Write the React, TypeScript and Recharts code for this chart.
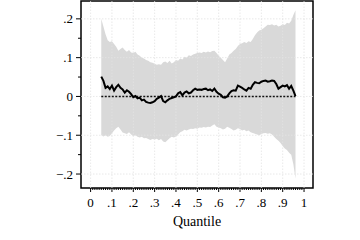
import {
  Area,
  ComposedChart,
  Line,
  ReferenceArea,
  ReferenceLine,
  XAxis,
  YAxis,
} from 'recharts';

const quantiles = [
  0.05, 0.06, 0.07, 0.08, 0.09, 0.1, 0.11, 0.12, 0.13, 0.14,
  0.15, 0.16, 0.17, 0.18, 0.19, 0.2, 0.21, 0.22, 0.23, 0.24,
  0.25, 0.26, 0.27, 0.28, 0.29, 0.3, 0.31, 0.32, 0.33, 0.34,
  0.35, 0.36, 0.37, 0.38, 0.39, 0.4, 0.41, 0.42, 0.43, 0.44,
  0.45, 0.46, 0.47, 0.48, 0.49, 0.5, 0.51, 0.52, 0.53, 0.54,
  0.55, 0.56, 0.57, 0.58, 0.59, 0.6, 0.61, 0.62, 0.63, 0.64,
  0.65, 0.66, 0.67, 0.68, 0.69, 0.7, 0.71, 0.72, 0.73, 0.74,
  0.75, 0.76, 0.77, 0.78, 0.79, 0.8, 0.81, 0.82, 0.83, 0.84,
  0.85, 0.86, 0.87, 0.88, 0.89, 0.9, 0.91, 0.92, 0.93, 0.94,
  0.95, 0.96,
];

const estimate = [
  0.051, 0.04, 0.022, 0.026, 0.019, 0.028, 0.015, 0.024, 0.03, 0.022,
  0.018, 0.01, 0.016, 0.012, 0.006, -0.002, 0.001, -0.005, -0.003, -0.01,
  -0.008, -0.014, -0.016, -0.017, -0.015, -0.012, -0.006, -0.003, 0.001, -0.012,
  -0.015, -0.01, -0.006, -0.004, -0.002, 0.0, 0.008, 0.011, 0.003, 0.01,
  0.013, 0.008, 0.01, 0.016, 0.02, 0.017, 0.018, 0.017, 0.019, 0.02,
  0.016, 0.018, 0.014, 0.02, 0.012, 0.007, 0.004, -0.002, -0.003, 0.0,
  0.008, 0.014, 0.016, 0.015, 0.028, 0.025, 0.022, 0.018, 0.015, 0.022,
  0.02, 0.03, 0.037, 0.035, 0.034, 0.038, 0.04, 0.041, 0.038, 0.039,
  0.041, 0.04, 0.032, 0.02, 0.024, 0.028, 0.026, 0.029, 0.02, 0.027,
  0.015, 0.001,
];

const upper = [
  0.2, 0.18, 0.16, 0.145, 0.14, 0.142, 0.135, 0.128, 0.118, 0.122,
  0.126, 0.12, 0.115, 0.12, 0.113, 0.112, 0.115, 0.108, 0.105, 0.1,
  0.098, 0.094, 0.092, 0.088, 0.087, 0.084, 0.082, 0.083, 0.082, 0.088,
  0.09, 0.086, 0.092, 0.085, 0.088, 0.094, 0.092, 0.098, 0.095, 0.102,
  0.1, 0.106, 0.104, 0.108, 0.11, 0.112, 0.113, 0.112, 0.115, 0.113,
  0.116, 0.114, 0.117, 0.118, 0.112, 0.105, 0.1, 0.094, 0.088, 0.098,
  0.108, 0.112, 0.118, 0.122, 0.13, 0.135, 0.137, 0.14, 0.138, 0.142,
  0.14, 0.148, 0.158, 0.165, 0.17, 0.172, 0.176, 0.18, 0.185, 0.184,
  0.186, 0.183, 0.185, 0.18, 0.182, 0.186, 0.184, 0.19, 0.188, 0.195,
  0.21, 0.222,
];

const lower = [
  -0.1, -0.103, -0.1, -0.104, -0.102, -0.095, -0.088, -0.082, -0.078, -0.085,
  -0.093, -0.095, -0.097, -0.092, -0.098, -0.102, -0.1, -0.104, -0.106, -0.104,
  -0.108, -0.107, -0.11, -0.112, -0.11, -0.111, -0.109, -0.113, -0.11, -0.116,
  -0.118, -0.113, -0.108, -0.104, -0.106, -0.103, -0.098, -0.092, -0.09, -0.086,
  -0.088, -0.085, -0.083, -0.084, -0.082, -0.083, -0.08, -0.081, -0.079, -0.08,
  -0.078, -0.079, -0.075, -0.072, -0.078, -0.08, -0.082, -0.085, -0.083, -0.078,
  -0.081, -0.084, -0.088, -0.086, -0.082, -0.084, -0.088, -0.086, -0.09, -0.088,
  -0.092, -0.094, -0.096, -0.098, -0.1, -0.097, -0.095, -0.094, -0.096, -0.095,
  -0.098, -0.104, -0.11, -0.114, -0.12, -0.128, -0.134, -0.138, -0.145, -0.15,
  -0.175, -0.212,
];

const xMajor = [0, 0.1, 0.2, 0.3, 0.4, 0.5, 0.6, 0.7, 0.8, 0.9, 1];
const xTicks = Array.from({ length: 101 }, (_, i) => i / 100);
const yMajor = [-0.2, -0.1, 0, 0.1, 0.2];
const yTicks = [-0.2, -0.15, -0.1, -0.05, 0, 0.05, 0.1, 0.15, 0.2];

const X_DOMAIN: [number, number] = [-0.045, 1.042];
const Y_DOMAIN: [number, number] = [-0.236, 0.246];

const data = quantiles.map((q, i) => ({
  q,
  est: estimate[i],
  band: [lower[i], upper[i]],
}));

const FONT = '"Liberation Serif", "Times New Roman", serif';

function isMajor(v: number) {
  return Math.abs(v * 10 - Math.round(v * 10)) < 1e-6;
}

function fmt(v: number): string {
  if (Math.abs(v) < 1e-9) return '0';
  if (Math.abs(v - 1) < 1e-9) return '1';
  const d = Math.round(Math.abs(v) * 10);
  return `${v < 0 ? '\u2212' : ''}.${d}`;
}

function XTick(props: any) {
  const { x, y, payload } = props;
  const v = payload.value as number;
  const major = isMajor(v);
  return (
    <g>
      <line x1={x} x2={x} y1={y} y2={y + (major ? 4 : 2)} stroke="#000" strokeWidth={1} />
      {major && (
        <text x={x} y={y + 19} textAnchor="middle" fill="#000" style={{ fontFamily: FONT, fontSize: 13 }}>
          {fmt(v)}
        </text>
      )}
    </g>
  );
}

function YTick(props: any) {
  const { x, y, payload } = props;
  const v = payload.value as number;
  const major = yMajor.some((m) => Math.abs(m - v) < 1e-9);
  return (
    <g>
      <line x1={x - (major ? 5 : 3)} x2={x} y1={y} y2={y} stroke="#000" strokeWidth={1} />
      {major && (
        <text x={x - 8} y={y + 4.5} textAnchor="end" fill="#000" style={{ fontFamily: FONT, fontSize: 13 }}>
          {fmt(v)}
        </text>
      )}
    </g>
  );
}

export default function App() {
  return (
    <div style={{ position: 'fixed', left: 0, top: 0, width: 360, height: 240, background: '#fff' }}>
      <ComposedChart width={360} height={240} data={data} margin={{ top: 1, right: 47, bottom: 0, left: 0 }}>
        <XAxis
          dataKey="q"
          type="number"
          domain={X_DOMAIN}
          allowDataOverflow
          ticks={xTicks}
          interval={0}
          tick={<XTick />}
          tickLine={false}
          tickSize={0}
          tickMargin={0}
          axisLine={false}
          height={52}
          label={{
            value: 'Quantile',
            position: 'insideBottom',
            offset: 14,
            fontSize: 14,
            fontFamily: FONT,
            fill: '#000',
          }}
        />
        <YAxis
          type="number"
          domain={Y_DOMAIN}
          allowDataOverflow
          ticks={yTicks}
          interval={0}
          tick={<YTick />}
          tickLine={false}
          tickSize={0}
          tickMargin={0}
          axisLine={false}
          width={81}
        />
        <Area
          dataKey="band"
          type="linear"
          fill="#d9d9d9"
          fillOpacity={1}
          stroke="none"
          isAnimationActive={false}
          dot={false}
          activeDot={false}
        />
        {xMajor.map((v) => (
          <ReferenceLine key={`gx${v}`} x={v} stroke="#e3e3e3" strokeDasharray="1.5 1.5" strokeWidth={0.8} />
        ))}
        {yMajor.map((v) => (
          <ReferenceLine key={`gy${v}`} y={v} stroke="#e3e3e3" strokeDasharray="1.5 1.5" strokeWidth={0.8} />
        ))}
        <ReferenceLine
          segment={[
            { x: quantiles[0], y: 0 },
            { x: quantiles[quantiles.length - 1], y: 0 },
          ]}
          stroke="#111"
          strokeWidth={1.4}
          strokeDasharray="2 1.5"
        />
        <Line
          dataKey="est"
          type="linear"
          stroke="#000"
          strokeWidth={2}
          dot={false}
          activeDot={false}
          isAnimationActive={false}
        />
        <ReferenceArea
          x1={X_DOMAIN[0]}
          x2={X_DOMAIN[1]}
          y1={Y_DOMAIN[0]}
          y2={Y_DOMAIN[1]}
          fill="none"
          stroke="#000"
          strokeWidth={1.5}
        />
      </ComposedChart>
    </div>
  );
}
